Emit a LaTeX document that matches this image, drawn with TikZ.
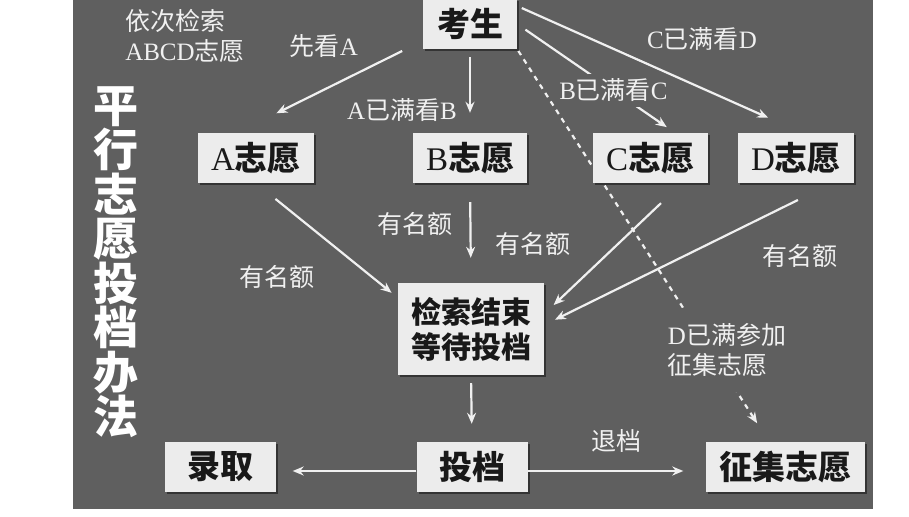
\documentclass[tikz,border=0pt]{standalone}
\usepackage{fontspec}
\setmainfont{Liberation Serif}
\newfontfamily\cjk{Noto Sans CJK SC}
\usetikzlibrary{arrows.meta,shadows,backgrounds}
\definecolor{bggray}{HTML}{5F5F5F}
\definecolor{boxgray}{HTML}{ECECEC}
\definecolor{linegray}{HTML}{F0F0F0}
\newcommand{\lat}[1]{{\rmfamily\mdseries #1}}

\begin{document}
\begin{tikzpicture}[x=1pt,y=-1pt]
\tikzset{box/.style={fill=boxgray, text=black!90, minimum height=50pt, inner sep=0pt, font=\cjk\bfseries\fontsize{33}{36}\selectfont, drop shadow={shadow xshift=2pt, shadow yshift=-2pt, fill=black, opacity=.45}}}
\tikzset{lbl/.style={text=linegray, inner sep=1pt, align=left, font=\cjk\fontsize{25}{30}\selectfont}}
\tikzset{arr/.style={draw=linegray, line width=2.2pt, -{Stealth[length=11pt,width=9pt]}}}
\tikzset{dots/.style={arr, dash pattern=on 5pt off 5pt}}

\useasboundingbox (0,0) rectangle (909,516);

\node[box, minimum width=94pt] (ks) at (470,24) {考生};
\node[box, minimum width=116pt] (A) at (256,158) {\lat{A}志愿};
\node[box, minimum width=114pt] (B) at (470,158) {\lat{B}志愿};
\node[box, minimum width=115pt] (C) at (650,158) {\lat{C}志愿};
\node[box, minimum width=116pt] (D) at (796,158) {\lat{D}志愿};
\node[box, minimum width=146pt, minimum height=92pt, align=center, font=\cjk\bfseries\fontsize{30}{35}\selectfont] (js) at (471,329) {检索结束\\等待投档};
\node[box, minimum width=111pt] (lq) at (220,467) {录取};
\node[box, minimum width=111pt] (td) at (472,467) {投档};
\node[box, minimum width=159pt] (zj) at (785,467) {征集志愿};

% title
\node[text=white, align=center, font=\cjk\bfseries\fontsize{45}{44.5}\selectfont] (title) at (116,262) {平\\行\\志\\愿\\投\\档\\办\\法};

\node[lbl] (order) at (185,36) {依次检索\\\lat{ABCD}志愿};

\begin{pgfonlayer}{background}
\fill[bggray] (73,0) rectangle (873,509);
\draw[dots, shorten <=2pt, shorten >=22pt] (ks.south east) -- ([xshift=-16pt]zj.north);
\end{pgfonlayer}
\node[lbl, fill=bggray, inner ysep=15pt] (dfull) at (727,350) {\lat{D}已满参加\\征集志愿};

\draw[arr, shorten <=4pt, shorten >=44pt] ([xshift=-17pt]ks.south west) -- ([xshift=-19pt]A.north);
\draw[arr, shorten <=8pt, shorten >=20pt] (ks.south) -- (B.north);
\draw[arr, shorten <=10pt, shorten >=10pt] (ks.east) -- ([xshift=25pt]C.north) node[lbl, fill=bggray, inner ysep=5pt, pos=0.61] (bc) {\lat{B}已满看\lat{C}};
\draw[arr, shorten <=5pt, shorten >=37pt] ([yshift=18pt]ks.east) -- ([xshift=6pt]D.north);

\node[lbl] (seeA) at (324,46) {先看\lat{A}};
\node[lbl] (ab) at (402,110) {\lat{A}已满看\lat{B}};
\node[lbl] (cd) at (702,39) {\lat{C}已满看\lat{D}};

\draw[arr, shorten <=25pt, shorten >=8pt] (A.south) -- ([yshift=-15pt]js.north west);
\draw[arr, shorten <=19pt, shorten >=25pt] (B.south) -- (js.north);
\draw[arr, shorten <=29pt, shorten >=13pt] ([xshift=32pt]C.south) -- ([yshift=15pt]js.east);
\draw[arr, shorten <=38pt, shorten >=12pt] ([xshift=36pt]D.south) -- ([yshift=4pt]js.east);

\node[lbl] (qa) at (277,277) {有名额};
\node[lbl] (qb) at (415,224) {有名额};
\node[lbl] (qc) at (533,244) {有名额};
\node[lbl] (qd) at (800,256) {有名额};

\draw[arr, shorten <=8pt, shorten >=18pt] (js.south) -- (td.north);
\draw[arr, shorten >=17pt] ([yshift=-4pt]td.west) -- ([yshift=-4pt]lq.east);
\draw[arr, shorten >=22pt] ([yshift=-4pt]td.east) -- ([yshift=-4pt]zj.west) node[lbl, midway, above=16pt] (tuidang) {退档};
\end{tikzpicture}
\end{document}
